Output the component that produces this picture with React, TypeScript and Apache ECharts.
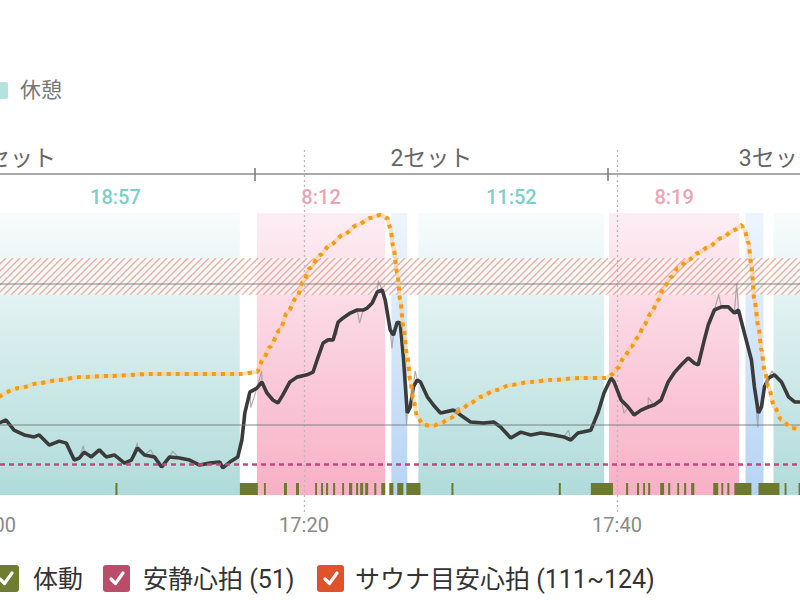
import React, { useEffect, useRef } from "react";
import * as echarts from "echarts";

// ---------- data (time = minutes after 17:00) ----------
const heartRate: [number, number][] = [
  [0.51, 65.5], [0.96, 66.6], [1.47, 63.0], [2.12, 61.3], [2.76, 60.6], [3.08, 61.3], [3.72, 57.7], [4.36, 59.1],
  [4.81, 58.4], [5.32, 52.4], [5.64, 53.1], [5.96, 55.2], [6.41, 53.5], [6.92, 56.0], [7.37, 53.5], [7.88, 54.2],
  [8.53, 51.3], [8.97, 52.4], [9.36, 56.7], [9.81, 54.2], [10.45, 53.5], [10.9, 49.9], [11.41, 53.5], [12.05, 53.1],
  [12.69, 52.4], [13.33, 50.6], [13.97, 51.3], [14.62, 51.7], [14.81, 49.6], [15.26, 51.7], [15.77, 53.5],
  [16.03, 59.5], [16.22, 69.1], [16.54, 76.5], [16.99, 77.9], [17.31, 80.1], [17.63, 76.2], [18.01, 73.7],
  [18.33, 72.6], [18.65, 75.5], [19.1, 80.1], [19.55, 81.8], [20.19, 82.6], [20.58, 83.6], [20.9, 88.9],
  [21.22, 93.9], [21.54, 95.0], [21.86, 95.0], [22.18, 101.3], [22.5, 102.8], [22.95, 104.5], [23.4, 105.6],
  [23.78, 105.6], [24.04, 106.3], [24.36, 108.1], [24.68, 112.0], [25.0, 112.7], [25.19, 109.1], [25.51, 98.5],
  [25.71, 96.7], [25.96, 101.3], [26.15, 101.0], [26.35, 88.9], [26.6, 69.1], [26.79, 71.2], [26.99, 78.3],
  [27.24, 80.8], [27.44, 80.1], [27.88, 74.8], [28.27, 71.9], [28.72, 69.1],
  [29.55, 70.1], [30.0, 68.4], [30.64, 65.9], [31.47, 65.5], [32.12, 65.9], [32.56, 64.1], [33.21, 60.2],
  [33.85, 62.3], [34.49, 61.3], [35.13, 62.0], [35.96, 61.3], [36.6, 60.6], [37.05, 59.5], [37.5, 62.0],
  [38.33, 63.0], [38.78, 69.1], [39.17, 76.2], [39.62, 81.5], [39.81, 80.1], [40.26, 73.7], [40.71, 71.2],
  [41.09, 68.4], [41.54, 70.1], [41.99, 71.2], [42.37, 71.9], [42.82, 73.7], [43.27, 80.1], [43.65, 83.3],
  [44.1, 86.1], [44.55, 88.6], [44.94, 86.8], [45.19, 86.1], [45.58, 95.0], [45.83, 100.3], [46.22, 105.6],
  [46.67, 106.7], [47.12, 106.7], [47.5, 104.5], [47.76, 105.6], [48.14, 97.4], [48.59, 87.9], [48.78, 78.3],
  [49.04, 69.1], [49.23, 71.2], [49.42, 78.3], [49.68, 81.5], [50.06, 82.6], [50.51, 80.1], [50.96, 74.8],
  [51.35, 73.0], [51.79, 73.0], [52.6, 72.0],
];

const heartRateSpikes: [number, number][] = [
  [5.9, 57.5], [9.35, 58.5], [10.2, 56.0], [11.6, 55.5], [16.6, 71.0], [17.3, 84.0], [22.1, 97.0],
  [23.55, 101.0], [24.75, 116.0], [25.62, 92.0], [26.55, 65.0], [27.1, 84.0], [29.9, 71.0], [36.9, 63.0],
  [40.45, 69.0], [42.0, 74.5], [46.5, 111.0], [47.65, 115.0], [47.9, 101.0], [49.0, 64.0], [49.9, 84.0],
];

const trendCurve: [number, number][] = [
  [0.51, 74.8], [1.79, 77.9], [3.08, 79.7], [4.36, 80.8], [5.64, 81.8], [7.56, 82.2], [10.13, 82.9], [15.9, 82.9],
  [16.99, 83.6], [17.37, 87.9], [17.82, 92.5], [18.46, 98.5], [18.91, 104.5], [19.55, 110.2], [19.94, 115.5],
  [20.38, 120.5], [21.03, 125.1], [21.67, 128.7], [22.5, 132.2], [23.4, 135.7], [24.23, 138.2], [24.87, 139.3],
  [25.32, 138.2], [25.51, 134.7], [25.71, 127.9], [25.96, 118.7], [26.15, 109.1], [26.35, 99.6], [26.6, 88.9],
  [26.79, 80.8], [26.99, 73.7], [27.24, 67.7], [27.63, 64.8], [28.27, 64.5], [28.72, 65.5], [29.36, 67.3],
  [30.0, 70.1], [30.64, 72.6], [31.28, 74.8], [32.24, 77.2], [33.21, 79.0], [34.49, 80.1], [35.77, 80.8],
  [37.69, 81.5], [39.29, 81.5], [39.62, 82.6], [40.06, 85.0], [40.45, 88.9], [40.9, 92.5], [41.35, 96.0],
  [41.73, 100.3], [42.18, 104.5], [42.63, 109.1], [43.01, 113.8], [43.46, 117.3], [43.91, 120.5], [44.55, 123.3],
  [45.19, 125.8], [45.83, 127.9], [46.67, 131.1], [47.5, 134.0], [47.95, 135.7], [48.14, 134.0], [48.4, 129.4],
  [48.59, 120.9], [48.78, 109.1], [49.04, 99.6], [49.23, 91.4], [49.42, 84.3], [49.68, 78.3], [50.06, 71.2],
  [50.51, 66.6], [51.15, 63.8], [51.79, 63.4], [52.6, 63.2],
];

const bandKinds = ["rest", "sauna", "water", "rest", "sauna", "water", "rest"];
const bandStarts = [-3.05, 16.99, 25.58, 27.31, 39.49, 48.21, 50.0];
const bandEnds = [15.9, 25.19, 26.6, 39.18, 47.81, 49.36, 62.0];
const bandLabels = ["18:57", "8:12", "", "11:52", "8:19", "", ""];

const setNames = ["1セット", "2セット", "3セット"];
const setLabelAt = [1.54, 28.14, 50.4];
const setBoundaries = [16.86, 39.42];

const restingHR = 51;
const targetRange = [111, 124];
const guideLines = [65, 115];

const movementStart = [7.95, 15.9, 17.44, 18.72, 19.49, 20.71, 21.09, 21.41, 21.86, 22.44, 22.88, 23.33, 23.59, 23.91,
  24.49, 24.94, 25.45, 25.96, 26.54, 29.42, 36.28, 38.33, 40.58, 41.28, 41.67, 41.99, 42.76, 43.27, 43.85, 44.29,
  44.74, 46.15, 46.67, 47.05, 47.5, 49.04, 50.71, 51.6];
const movementEnd = [8.08, 17.05, 17.56, 18.91, 19.68, 20.83, 21.22, 21.54, 21.99, 22.56, 23.08, 23.46, 23.78, 24.1,
  24.62, 25.19, 25.71, 26.35, 27.44, 29.55, 36.41, 39.74, 40.71, 41.41, 41.79, 42.12, 43.01, 43.4, 43.97, 44.42,
  44.94, 46.47, 46.79, 47.18, 48.59, 50.38, 50.83, 52.2];

const topLegendNames = ["休憩"];
const bottomLegendNames = ["体動", `安静心拍 (${restingHR})`, `サウナ目安心拍 (${targetRange[0]}~${targetRange[1]})`];

// ---------- layout ----------
const OFFSET = 100;
const CHART_W = 1100;
const CHART_H = 600;
const FONT = "Roboto, 'Noto Sans CJK JP', sans-serif";
const GRID_LEFT = 91;
const GRID_RIGHT = 70;

const bandColors: Record<string, [string, string]> = {
  rest: ["#f8fcfc", "#afdbda"],
  sauna: ["#fdeef4", "#f8b0c7"],
  water: ["#eef5fd", "#b5d4f4"],
};
const bandLabelColor: Record<string, string> = { rest: "#7ccfca", sauna: "#eea3b3", water: "#9cc4ee" };

function vgrad(top: string, bottom: string) {
  return new echarts.graphic.LinearGradient(0, 0, 0, 1, [
    { offset: 0, color: top },
    { offset: 1, color: bottom },
  ]);
}

function makeHatch() {
  const s = 7;
  const c = document.createElement("canvas");
  c.width = s;
  c.height = s;
  const g = c.getContext("2d");
  if (g) {
    g.fillStyle = "rgba(255,255,255,0.45)";
    g.fillRect(0, 0, s, s);
    g.strokeStyle = "rgba(228,128,102,0.62)";
    g.lineWidth = 1.3;
    g.beginPath();
    g.moveTo(0, s); g.lineTo(s, 0);
    g.moveTo(-2, 2); g.lineTo(2, -2);
    g.moveTo(s - 2, s + 2); g.lineTo(s + 2, s - 2);
    g.stroke();
  }
  return c;
}

function fmtTime(v: number) {
  const h = 17 + Math.floor(v / 60);
  const m = Math.round(v % 60);
  return `${h}:${String(m).padStart(2, "0")}`;
}

function buildOption(): any {
  const rawLine = [...heartRate, ...heartRateSpikes].sort((a, b) => a[0] - b[0]);
  const hatch = makeHatch();
  const legendColors = ["#6f7d32", "#b94d6a", "#e0522a"];
  const iconX = [-8, 103, 317];
  const textX = [33, 143, 355];

  const graphic: any[] = [];
  topLegendNames.forEach((name) => {
    graphic.push({
      type: "rect", left: OFFSET - 9, top: 82,
      shape: { width: 17, height: 17, r: 2 }, style: { fill: "#b5e2de" },
    });
    graphic.push({
      type: "text", x: OFFSET + 20, y: 90,
      style: { text: name, fontSize: 21, fontFamily: FONT, fill: "#777", verticalAlign: "middle" },
    });
  });
  bottomLegendNames.forEach((name, i) => {
    graphic.push({
      type: "group", x: OFFSET + iconX[i], y: 565,
      children: [
        { type: "rect", shape: { x: 0, y: 0, width: 27, height: 27, r: 3 }, style: { fill: legendColors[i] } },
        {
          type: "polyline", shape: { points: [[8, 14], [12.5, 18.5], [20, 8]] },
          style: { stroke: "#fff", lineWidth: 3.2, fill: null, lineCap: "round", lineJoin: "round" },
        },
      ],
    });
    graphic.push({
      type: "text", x: OFFSET + textX[i], y: 579,
      style: { text: name, fontSize: 25, fontFamily: FONT, fill: "#333", verticalAlign: "middle" },
    });
  });

  return {
    animation: false,
    backgroundColor: "#fff",
    textStyle: { fontFamily: FONT },
    graphic,
    grid: [
      { left: GRID_LEFT, right: GRID_RIGHT, top: 213, bottom: CHART_H - 495 },
      { left: GRID_LEFT, right: GRID_RIGHT, top: 150, bottom: CHART_H - 513 },
      { left: GRID_LEFT, right: GRID_RIGHT, top: 174, height: 10 },
    ],
    xAxis: [
      {
        gridIndex: 0, type: "value", min: 0, max: 60, interval: 20,
        axisLine: { show: false }, axisTick: { show: false }, splitLine: { show: false },
        axisLabel: { margin: 20, fontSize: 20, color: "#8a8a8a", formatter: fmtTime },
      },
      {
        gridIndex: 1, type: "value", min: 0, max: 60, interval: 20, z: 3,
        axisLine: { show: false }, axisTick: { show: false }, axisLabel: { show: false },
        splitLine: { show: true, lineStyle: { color: "#b9b9b9", type: [2, 3], width: 1.3 } },
      },
      {
        gridIndex: 2, type: "value", position: "top", offset: 0, min: 0, max: 60,
        axisLine: { show: true, onZero: false, lineStyle: { color: "#8c8c8c", width: 1.5 } },
        axisTick: { show: true, inside: true, length: 7, customValues: setBoundaries, lineStyle: { color: "#777", width: 1.5 } },
        axisLabel: {
          show: true, customValues: setLabelAt, margin: 4, fontSize: 23, color: "#666",
          formatter: (v: number) => {
            const i = setLabelAt.findIndex((p) => Math.abs(p - v) < 1e-6);
            return i >= 0 ? setNames[i] : "";
          },
        },
        splitLine: { show: false },
      },
      {
        gridIndex: 2, type: "value", position: "top", offset: 0, min: 0, max: 60,
        axisLine: { show: false, onZero: false },
        axisTick: { show: true, inside: false, length: 6, customValues: setBoundaries, lineStyle: { color: "#777", width: 1.5 } },
        axisLabel: { show: false },
        splitLine: { show: false },
      },
    ],
    yAxis: [
      { gridIndex: 0, type: "value", min: 40, max: 140, show: false },
      { gridIndex: 1, type: "value", min: 0, max: 1, show: false },
      { gridIndex: 2, type: "value", min: 0, max: 1, show: false },
    ],
    series: [
      {
        name: "区間", type: "line", xAxisIndex: 0, yAxisIndex: 0, data: [], z: 1, silent: true,
        markArea: {
          silent: true,
          data: bandStarts.map((s, i) => [
            {
              xAxis: s,
              itemStyle: { color: vgrad(bandColors[bandKinds[i]][0], bandColors[bandKinds[i]][1]) },
              label: {
                show: bandLabels[i] !== "", formatter: bandLabels[i], position: "top", distance: 6,
                fontSize: 20, fontWeight: 500, color: bandLabelColor[bandKinds[i]], fontFamily: FONT,
              },
            },
            { xAxis: bandEnds[i] },
          ]),
        },
      },
      {
        name: "サウナ目安心拍", type: "line", xAxisIndex: 0, yAxisIndex: 0, data: [], z: 2, silent: true,
        markArea: {
          silent: true,
          data: [[
            { yAxis: targetRange[0], itemStyle: { color: { image: hatch, repeat: "repeat", imageWidth: 7, imageHeight: 7 } } },
            { yAxis: targetRange[1] },
          ]],
        },
      },
      {
        name: "目安線", type: "line", xAxisIndex: 0, yAxisIndex: 0, data: [], z: 2, silent: true,
        markLine: {
          silent: true, symbol: "none", label: { show: false },
          lineStyle: { color: "rgba(110,120,120,0.6)", width: 1.5, type: "solid" },
          data: guideLines.map((v) => ({ yAxis: v })),
        },
      },
      {
        name: "安静心拍", type: "line", xAxisIndex: 0, yAxisIndex: 0, data: [], z: 2, silent: true,
        markLine: {
          silent: true, symbol: "none", label: { show: false },
          lineStyle: { color: "#c4497a", width: 2.5, type: [5, 4] },
          data: [{ yAxis: restingHR }],
        },
      },
      {
        name: "体動", type: "custom", xAxisIndex: 0, yAxisIndex: 0, z: 2, silent: true,
        encode: { x: [0, 1] },
        data: movementStart.map((s, i) => [s, movementEnd[i]]),
        renderItem: (params: any, api: any) => {
          const a = api.coord([api.value(0), 40]);
          const b = api.coord([api.value(1), 40]);
          return {
            type: "rect",
            shape: { x: a[0], y: a[1] - 12, width: Math.max(b[0] - a[0], 1.8), height: 12 },
            style: { fill: "#6b7a2c" },
          };
        },
      },
      {
        name: "心拍(生)", type: "line", xAxisIndex: 0, yAxisIndex: 0, z: 4, silent: true,
        data: rawLine, showSymbol: false, symbol: "none",
        lineStyle: { color: "rgba(150,150,150,0.75)", width: 1.2 },
      },
      {
        name: "心拍", type: "line", xAxisIndex: 0, yAxisIndex: 0, z: 4, silent: true,
        data: heartRate, showSymbol: false, symbol: "none",
        lineStyle: { color: "#3b3b3b", width: 3.6 },
      },
      {
        name: "推移(下地)", type: "line", xAxisIndex: 0, yAxisIndex: 0, z: 5, silent: true,
        data: trendCurve, showSymbol: false, symbol: "none", smooth: 0.3, smoothMonotone: "x",
        lineStyle: { color: "rgba(249,205,140,0.6)", width: 4 },
      },
      {
        name: "推移", type: "line", xAxisIndex: 0, yAxisIndex: 0, z: 5, silent: true,
        data: trendCurve, showSymbol: false, symbol: "none", smooth: 0.3, smoothMonotone: "x",
        lineStyle: { color: "#f39a16", width: 4, type: [4, 5] },
      },
    ],
  };
}

export default function App() {
  const ref = useRef<HTMLDivElement>(null);
  useEffect(() => {
    if (!ref.current) return;
    const chart = echarts.init(ref.current, undefined, { renderer: "svg" });
    chart.setOption(buildOption());
    return () => chart.dispose();
  }, []);
  return (
    <div style={{ position: "fixed", left: 0, top: 0, width: 800, height: 600, overflow: "hidden", background: "#fff" }}>
      <div ref={ref} style={{ position: "absolute", left: -OFFSET, top: 0, width: CHART_W, height: CHART_H }} />
    </div>
  );
}
